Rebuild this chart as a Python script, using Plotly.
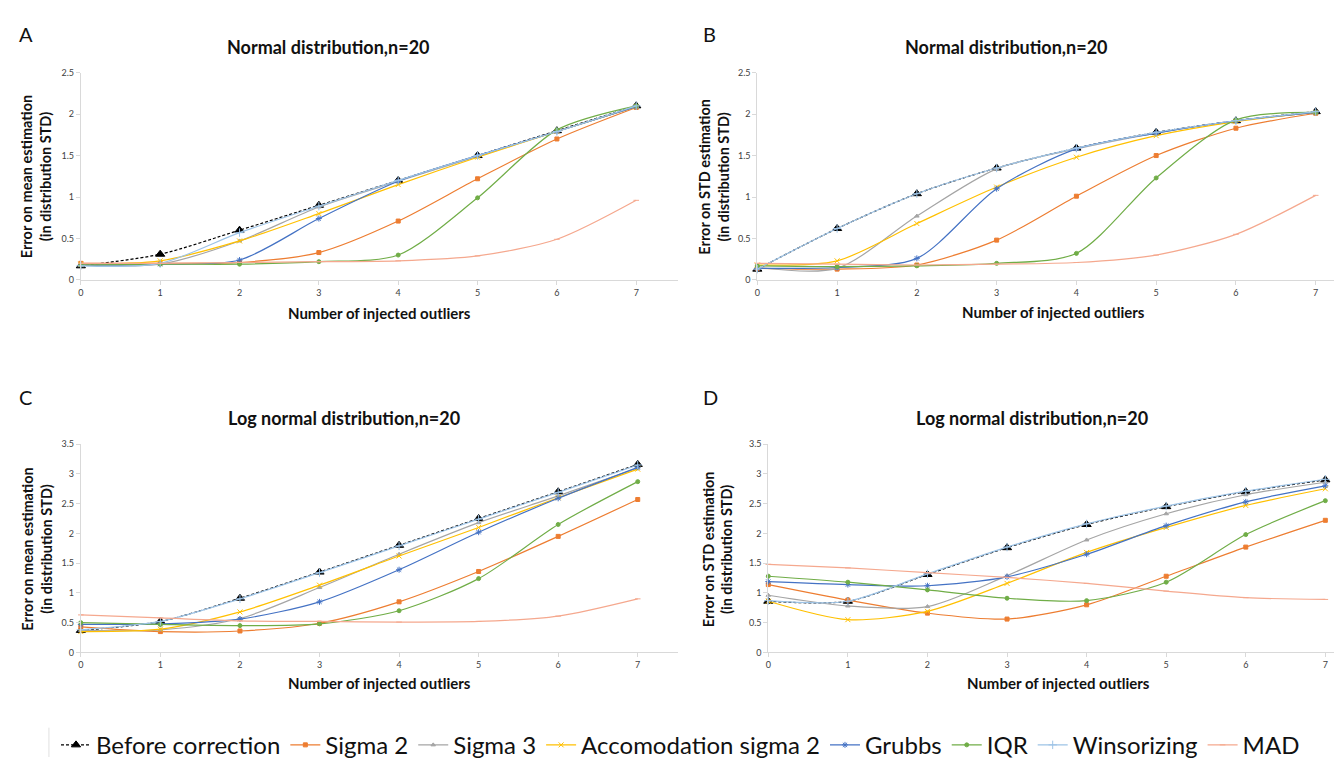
import plotly.graph_objects as go

W, H = 1342, 760

x_outliers = [0, 1, 2, 3, 4, 5, 6, 7]

series_names = ["Before correction", "Sigma 2", "Sigma 3", "Accomodation sigma 2",
                "Grubbs", "IQR", "Winsorizing", "MAD"]

# Panel A: Normal distribution, error on mean
a_before = [0.17, 0.31, 0.60, 0.90, 1.20, 1.50, 1.80, 2.10]
a_sigma2 = [0.20, 0.20, 0.21, 0.33, 0.71, 1.22, 1.70, 2.08]
a_sigma3 = [0.18, 0.19, 0.47, 0.88, 1.19, 1.49, 1.79, 2.09]
a_accom = [0.19, 0.23, 0.47, 0.80, 1.15, 1.48, 1.79, 2.09]
a_grubbs = [0.18, 0.19, 0.24, 0.74, 1.19, 1.50, 1.79, 2.09]
a_iqr = [0.18, 0.19, 0.19, 0.22, 0.30, 0.99, 1.81, 2.10]
a_winsor = [0.17, 0.20, 0.57, 0.89, 1.20, 1.50, 1.79, 2.10]
a_mad = [0.20, 0.20, 0.21, 0.22, 0.23, 0.29, 0.49, 0.96]

# Panel B: Normal distribution, error on STD
b_before = [0.13, 0.62, 1.04, 1.35, 1.59, 1.78, 1.92, 2.03]
b_sigma2 = [0.14, 0.13, 0.18, 0.48, 1.01, 1.50, 1.83, 2.01]
b_sigma3 = [0.15, 0.14, 0.77, 1.34, 1.58, 1.77, 1.92, 2.02]
b_accom = [0.18, 0.23, 0.68, 1.12, 1.48, 1.74, 1.91, 2.02]
b_grubbs = [0.14, 0.15, 0.26, 1.10, 1.58, 1.77, 1.92, 2.02]
b_iqr = [0.17, 0.16, 0.17, 0.20, 0.32, 1.23, 1.93, 2.02]
b_winsor = [0.13, 0.62, 1.04, 1.35, 1.59, 1.78, 1.92, 2.03]
b_mad = [0.20, 0.19, 0.18, 0.19, 0.21, 0.30, 0.55, 1.02]

# Panel C: Log normal distribution, error on mean
c_before = [0.37, 0.52, 0.91, 1.35, 1.80, 2.25, 2.70, 3.16]
c_sigma2 = [0.43, 0.35, 0.36, 0.49, 0.85, 1.36, 1.95, 2.57]
c_sigma3 = [0.37, 0.38, 0.57, 1.09, 1.65, 2.18, 2.63, 3.10]
c_accom = [0.35, 0.39, 0.68, 1.13, 1.62, 2.10, 2.60, 3.08]
c_grubbs = [0.47, 0.48, 0.56, 0.85, 1.39, 2.02, 2.59, 3.11]
c_iqr = [0.50, 0.47, 0.45, 0.48, 0.70, 1.24, 2.15, 2.87]
c_winsor = [0.38, 0.52, 0.90, 1.34, 1.79, 2.24, 2.69, 3.15]
c_mad = [0.63, 0.58, 0.53, 0.52, 0.51, 0.52, 0.61, 0.90]

# Panel D: Log normal distribution, error on STD
d_before = [0.86, 0.86, 1.31, 1.76, 2.15, 2.45, 2.70, 2.90]
d_sigma2 = [1.14, 0.88, 0.66, 0.56, 0.80, 1.28, 1.77, 2.22]
d_sigma3 = [0.96, 0.78, 0.77, 1.29, 1.89, 2.33, 2.65, 2.86]
d_accom = [0.86, 0.55, 0.69, 1.16, 1.68, 2.10, 2.47, 2.75]
d_grubbs = [1.19, 1.14, 1.12, 1.27, 1.65, 2.13, 2.53, 2.80]
d_iqr = [1.28, 1.18, 1.05, 0.91, 0.87, 1.18, 1.98, 2.55]
d_winsor = [0.87, 0.86, 1.32, 1.77, 2.16, 2.46, 2.71, 2.91]
d_mad = [1.48, 1.42, 1.34, 1.26, 1.16, 1.03, 0.92, 0.89]

panel_titles = ["Normal distribution,n=20", "Normal distribution,n=20",
                "Log normal distribution,n=20", "Log normal distribution,n=20"]
panel_letters = ["A", "B", "C", "D"]
y_titles = ["Error on mean estimation<br>(in distribution STD)",
            "Error on STD estimation<br>(in distribution STD)",
            "Error on mean estimation<br>(in distribution STD)",
            "Error on STD estimation<br>(in distribution STD)"]
x_title = "Number of injected outliers"

panels = [
    [a_before, a_sigma2, a_sigma3, a_accom, a_grubbs, a_iqr, a_winsor, a_mad],
    [b_before, b_sigma2, b_sigma3, b_accom, b_grubbs, b_iqr, b_winsor, b_mad],
    [c_before, c_sigma2, c_sigma3, c_accom, c_grubbs, c_iqr, c_winsor, c_mad],
    [d_before, d_sigma2, d_sigma3, d_accom, d_grubbs, d_iqr, d_winsor, d_mad],
]

styles = [
    dict(color="#000000", dash="3px,2px", symbol="triangle-up", size=8, width=1.2),
    dict(color="#ED7D31", dash="solid", symbol="square", size=4, width=1.2),
    dict(color="#A5A5A5", dash="solid", symbol="triangle-up", size=4, width=1.2),
    dict(color="#FFC000", dash="solid", symbol="x-thin-open", size=5, width=1.2),
    dict(color="#4472C4", dash="solid", symbol="asterisk-open", size=5, width=1.2),
    dict(color="#70AD47", dash="solid", symbol="circle", size=4, width=1.2),
    dict(color="#9DC3E6", dash="solid", symbol="cross-thin-open", size=6, width=1.2),
    dict(color="#F5A88E", dash="solid", symbol="line-ew-open", size=4, width=1.2),
]


def px(x):
    return x / W


def py(y):
    return 1 - y / H


# pixel geometry of each plot area: (x0, x1, y_bottom, y_top, xmax, ymax)
geom = [
    (70, 668, 272, 60, 7.52, 2.5),
    (748, 1342, 272, 60, 7.43, 2.5),
    (70, 668, 653, 440, 7.50, 3.5),
    (759, 1342, 653, 440, 7.31, 3.5),
]
title_pos = [(318, 34), (998, 34), (334, 413), (1023, 413)]
letter_pos = [(15, 20), (700, 20), (15, 392), (701, 392)]
ytitle_pos = [(25, 166), (705, 166), (26, 547), (708, 547)]
xtitle_pos = [(369, 306), (1045, 305), (369, 684), (1050, 684)]

fig = go.Figure()
font_family = "Lato, 'Open Sans', sans-serif"

for p, data in enumerate(panels):
    sfx = "" if p == 0 else str(p + 1)
    for i, (name, vals) in enumerate(zip(series_names, data)):
        st = styles[i]
        fig.add_trace(go.Scatter(
            x=x_outliers, y=vals, name=name, mode="lines+markers",
            line=dict(color=st["color"], width=st["width"], dash=st["dash"], shape="spline", smoothing=0.8),
            marker=dict(symbol=st["symbol"], size=st["size"], color=st["color"],
                        line=dict(color=st["color"], width=1)),
            xaxis="x" + sfx, yaxis="y" + sfx,
            legendgroup=name, showlegend=(p == 0), cliponaxis=False,
        ))

layout = dict(
    width=W, height=H,
    margin=dict(l=0, r=0, t=0, b=0),
    paper_bgcolor="white", plot_bgcolor="white",
    font=dict(family=font_family, color="#222222"),
    legend=dict(orientation="h", x=0.5, xanchor="center", y=py(748), yanchor="middle",
                font=dict(size=24, color="#111111", family=font_family),
                itemwidth=30, tracegroupgap=0, bgcolor="rgba(0,0,0,0)"),
    annotations=[], shapes=[],
)

for p, (x0, x1, yb, yt, xmax, ymax) in enumerate(geom):
    sfx = "" if p == 0 else str(p + 1)
    layout["xaxis" + sfx] = dict(
        domain=[px(x0), px(x1)], range=[0, xmax], anchor="y" + sfx,
        tickmode="array", tickvals=x_outliers, ticktext=[str(v) for v in x_outliers],
        showgrid=False, zeroline=False, showline=True, linecolor="#D9D9D9", linewidth=1,
        ticks="outside", ticklen=4, tickcolor="#D9D9D9",
        tickfont=dict(size=9, color="#404040"),
    )
    layout["yaxis" + sfx] = dict(
        domain=[py(yb), py(yt)], range=[0, ymax], anchor="x" + sfx,
        dtick=0.5, showgrid=False, zeroline=False, showline=True, linecolor="#D9D9D9", linewidth=1,
        ticks="outside", ticklen=4, tickcolor="#D9D9D9",
        tickfont=dict(size=9, color="#404040"),
    )
    tx, ty = title_pos[p]
    layout["annotations"].append(dict(
        text="<b>" + panel_titles[p] + "</b>", x=px(tx), y=py(ty), xref="paper", yref="paper",
        showarrow=False, xanchor="center", yanchor="middle", font=dict(size=18, color="#111111")))
    lx, ly = letter_pos[p]
    layout["annotations"].append(dict(
        text=panel_letters[p], x=px(lx), y=py(ly), xref="paper", yref="paper",
        showarrow=False, xanchor="center", yanchor="middle", font=dict(size=20, color="#111111")))
    yx, yy = ytitle_pos[p]
    layout["annotations"].append(dict(
        text="<b>" + y_titles[p] + "</b>", x=px(yx), y=py(yy), xref="paper", yref="paper",
        showarrow=False, xanchor="center", yanchor="middle", textangle=-90,
        font=dict(size=14.5, color="#111111")))
    xx, xy = xtitle_pos[p]
    layout["annotations"].append(dict(
        text="<b>" + x_title + "</b>", x=px(xx), y=py(xy), xref="paper", yref="paper",
        showarrow=False, xanchor="center", yanchor="middle", font=dict(size=15, color="#111111")))

layout["shapes"].append(dict(type="line", xref="paper", yref="paper",
                             x0=px(38), x1=px(38), y0=py(730), y1=py(760),
                             line=dict(color="#E0E0E0", width=1)))

fig.update_layout(**layout)
fig.write_html("out.html")
